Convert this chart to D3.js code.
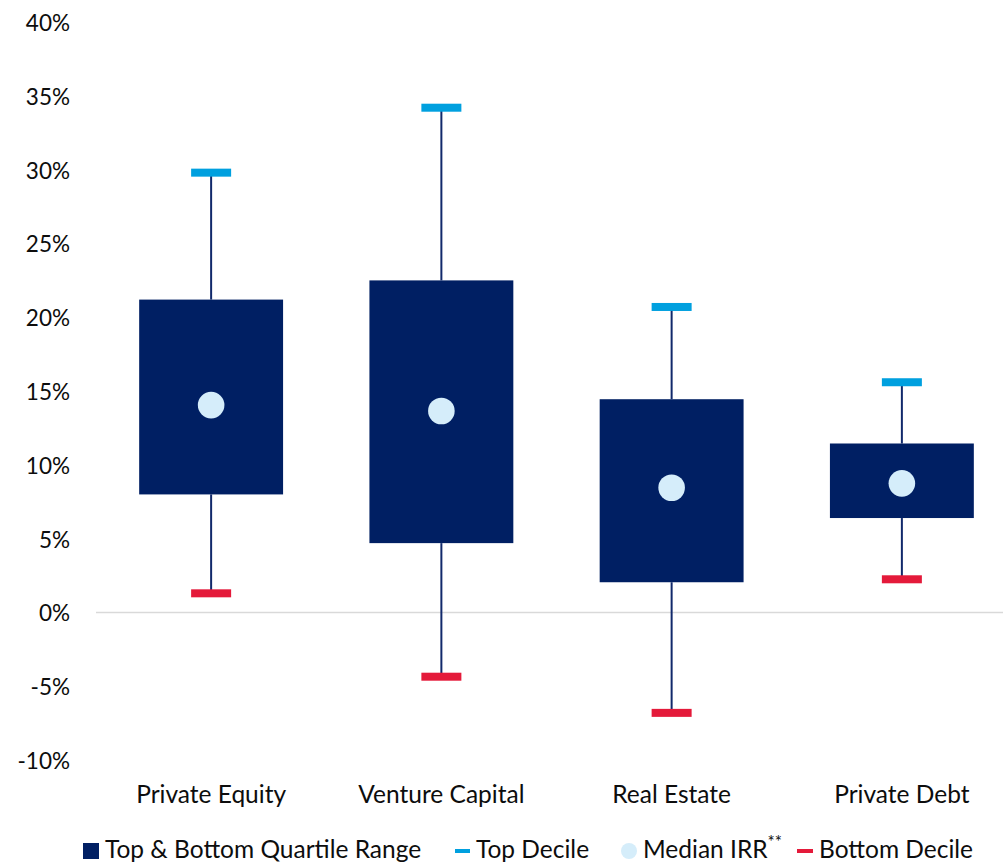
<!DOCTYPE html>
<html>
<head>
<meta charset="utf-8">
<script src="https://cdn.jsdelivr.net/npm/d3@7"></script>
<style>
  html, body { margin: 0; padding: 0; background: #ffffff; }
  svg { display: block; }
  text { font-family: Lato, "Open Sans", sans-serif; fill: #0d0d0d; }
</style>
</head>
<body>
<svg id="chart" width="1003" height="864"></svg>
<script>
// ---- data ----
const categories   = ["Private Equity", "Venture Capital", "Real Estate", "Private Debt"];
const topDecile    = [29.8, 34.2, 20.7, 15.6];
const topQuartile  = [21.2, 22.5, 14.45, 11.45];
const medianIRR    = [14.05, 13.65, 8.45, 8.75];
const bottomQuartile = [8.0, 4.7, 2.05, 6.4];
const bottomDecile = [1.3, -4.35, -6.8, 2.25];
const yTicks       = [-10, -5, 0, 5, 10, 15, 20, 25, 30, 35, 40];
const legendLabels = ["Top & Bottom Quartile Range", "Top Decile", "Median IRR", "Bottom Decile"];

const COL_BOX = "#001f63", COL_WHISK = "#11296b", COL_TOP = "#00a0df",
      COL_BOT = "#e41a3a", COL_MED = "#d5edfa", COL_ZERO = "#d9d9d9";
const FONT = "Lato, 'Open Sans', sans-serif";
const LBL_SIZE = 24.5;

const svg = d3.select("#chart");
const x = d3.scaleBand().domain(categories).range([96, 1017]).padding(0);
const y = d3.scaleLinear().domain([-10, 40]).range([760.1, 22.1]);
const boxW = x.bandwidth() * 0.625;
const capW = 40, capH = 8;

// y axis labels (no axis line)
const yAxis = d3.axisLeft(y).tickValues(yTicks).tickSize(0).tickPadding(0)
  .tickFormat(d => d + "%");
const gy = svg.append("g").attr("transform", "translate(70,0)").call(yAxis);
gy.select(".domain").remove();
gy.selectAll("text").attr("font-size", 22.5).attr("dy", "0.37em")
  .style("font-family", FONT).attr("fill", "#0d0d0d");

// zero line
svg.append("line").attr("x1", 96).attr("x2", 1003)
  .attr("y1", y(0)).attr("y2", y(0))
  .attr("stroke", COL_ZERO).attr("stroke-width", 1.5);

const rows = categories.map((c, i) => ({
  c, td: topDecile[i], tq: topQuartile[i], med: medianIRR[i],
  bq: bottomQuartile[i], bd: bottomDecile[i]
}));
const cx = d => x(d.c) + x.bandwidth() / 2;

// whiskers
const g = svg.append("g");
g.selectAll(".wu").data(rows).join("line")
  .attr("x1", cx).attr("x2", cx).attr("y1", d => y(d.td)).attr("y2", d => y(d.tq))
  .attr("stroke", COL_WHISK).attr("stroke-width", 2);
g.selectAll(".wl").data(rows).join("line")
  .attr("x1", cx).attr("x2", cx).attr("y1", d => y(d.bq)).attr("y2", d => y(d.bd))
  .attr("stroke", COL_WHISK).attr("stroke-width", 2);

// boxes
g.selectAll(".box").data(rows).join("rect")
  .attr("x", d => cx(d) - boxW / 2).attr("width", boxW)
  .attr("y", d => y(d.tq)).attr("height", d => y(d.bq) - y(d.tq))
  .attr("fill", COL_BOX);

// caps
g.selectAll(".capt").data(rows).join("rect")
  .attr("x", d => cx(d) - capW / 2).attr("width", capW)
  .attr("y", d => y(d.td) - capH / 2).attr("height", capH).attr("fill", COL_TOP);
g.selectAll(".capb").data(rows).join("rect")
  .attr("x", d => cx(d) - capW / 2).attr("width", capW)
  .attr("y", d => y(d.bd) - capH / 2).attr("height", capH).attr("fill", COL_BOT);

// medians
g.selectAll(".med").data(rows).join("circle")
  .attr("cx", cx).attr("cy", d => y(d.med)).attr("r", 13.3).attr("fill", COL_MED);

// category labels
const xAxis = d3.axisBottom(x).tickSize(0).tickPadding(0);
const gx = svg.append("g").attr("transform", "translate(0,803)").call(xAxis);
gx.select(".domain").remove();
gx.selectAll("text").attr("font-size", LBL_SIZE).attr("dy", 0).attr("y", 0)
  .style("font-family", FONT).attr("fill", "#0d0d0d");

// legend
const lg = svg.append("g");
const ly = 851, lbase = 858;
lg.append("rect").attr("x", 83).attr("y", ly - 8).attr("width", 16).attr("height", 16).attr("fill", COL_BOX);
lg.append("text").attr("x", 105).attr("y", lbase).attr("font-size", LBL_SIZE).text(legendLabels[0]);
lg.append("rect").attr("x", 455).attr("y", ly - 2).attr("width", 15).attr("height", 4).attr("fill", COL_TOP);
lg.append("text").attr("x", 476).attr("y", lbase).attr("font-size", LBL_SIZE).text(legendLabels[1]);
lg.append("circle").attr("cx", 629).attr("cy", ly).attr("r", 8).attr("fill", COL_MED);
const mt = lg.append("text").attr("x", 643).attr("y", lbase).attr("font-size", LBL_SIZE);
mt.append("tspan").text(legendLabels[2]);
mt.append("tspan").attr("font-size", 17).attr("dy", -10).text("**");
lg.append("rect").attr("x", 797).attr("y", ly - 2).attr("width", 16).attr("height", 4).attr("fill", COL_BOT);
lg.append("text").attr("x", 819).attr("y", lbase).attr("font-size", LBL_SIZE).text(legendLabels[3]);
</script>
</body>
</html>
